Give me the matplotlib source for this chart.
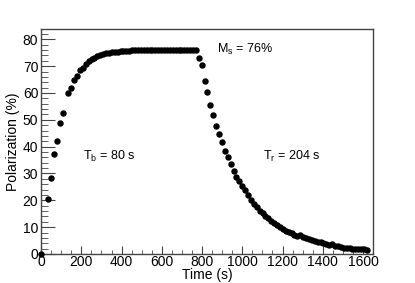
import matplotlib
matplotlib.use("Agg")
import matplotlib.pyplot as plt
from matplotlib.ticker import MultipleLocator

plt.rcParams['font.family'] = ['Liberation Sans', 'DejaVu Sans']
plt.rcParams['mathtext.default'] = 'regular'

# polarization build-up (beam on) and relaxation (beam off)
time_s = [0, 35, 49, 64, 78, 93, 107, 136, 150, 165, 179, 193, 208, 222, 237,
          251, 265, 280, 294, 309, 323, 337, 352, 366, 381, 395, 409, 424, 438,
          453, 467, 481, 496, 510, 525, 539, 553, 568, 582, 597, 611, 625, 640,
          654, 669, 683, 697, 712, 726, 741, 755, 769, 784, 798, 813, 827, 841,
          856, 870, 885, 899, 913, 928, 942, 957, 971, 985, 1000, 1014, 1029,
          1043, 1057, 1072, 1086, 1101, 1115, 1129, 1144, 1158, 1173, 1187,
          1201, 1216, 1230, 1245, 1259, 1273, 1288, 1302, 1317, 1331, 1345,
          1360, 1374, 1389, 1403, 1417, 1432, 1446, 1461, 1475, 1489, 1504,
          1518, 1533, 1547, 1561, 1576, 1590, 1605, 1619]
polarization = [0.0, 20.4, 28.2, 37.3, 42.2, 48.9, 52.7, 59.9, 62.0, 64.9, 66.3,
                68.7, 69.4, 70.7, 71.8, 72.6, 73.0, 73.6, 74.1, 74.5, 74.8, 75.0,
                75.2, 75.3, 75.4, 75.6, 75.6, 75.7, 75.8, 75.9, 75.9, 75.9, 76.0,
                76.0, 76.0, 76.1, 76.0, 76.1, 76.1, 76.0, 76.1, 76.0, 76.2, 76.0,
                76.1, 76.2, 76.1, 76.0, 76.2, 76.1, 76.2, 75.9, 73.1, 70.5, 64.3,
                60.2, 55.4, 51.7, 47.6, 44.8, 41.9, 38.5, 36.0, 33.4, 30.9, 28.8,
                27.1, 25.3, 23.9, 21.8, 20.3, 18.7, 17.4, 16.2, 15.2, 14.3, 13.4,
                12.4, 11.7, 10.8, 10.2, 9.3, 8.7, 8.3, 7.7, 7.2, 6.8, 7.0, 6.2,
                5.9, 5.6, 5.2, 4.9, 4.6, 4.3, 4.0, 3.6, 3.2, 3.6, 3.0, 2.8, 2.6,
                2.4, 2.3, 2.2, 2.0, 1.9, 1.9, 1.7, 1.8, 1.5]

fig = plt.figure(figsize=(4.15, 2.83), dpi=100)
ax = fig.add_axes([0.099, 0.1025, 0.8, 0.7965])

ax.plot(time_s, polarization, 'o', color='black', ms=3.6, mec='black', clip_on=False, zorder=3)

ax.set_xlim(0, 1650)
ax.set_ylim(0, 84)
ax.xaxis.set_major_locator(MultipleLocator(200))
ax.xaxis.set_minor_locator(MultipleLocator(50))
ax.yaxis.set_major_locator(MultipleLocator(10))
ax.yaxis.set_minor_locator(MultipleLocator(2))

frame_col = '#444444'
for sp in ax.spines.values():
    sp.set_color(frame_col)
    sp.set_linewidth(1.0)
ax.tick_params(axis='both', which='both', direction='in', colors=frame_col,
               labelcolor='black', labelsize=10, top=False, right=False)
ax.tick_params(axis='x', which='major', length=6, pad=1)
ax.tick_params(axis='x', which='minor', length=3)
ax.tick_params(axis='y', which='major', length=10, pad=2)
ax.tick_params(axis='y', which='minor', length=5)

ax.set_xlabel('Time (s)', fontsize=10, labelpad=-1)
ax.set_ylabel('Polarization (%)', fontsize=10, labelpad=2)

ax.text(874, 76.2, 'M$_s$ = 76%', fontsize=9, va='center', ha='left')
ax.text(207, 36.3, 'T$_b$ = 80 s', fontsize=9, va='center', ha='left')
ax.text(1103, 36.3, 'T$_r$ = 204 s', fontsize=9, va='center', ha='left')

fig.savefig('out.png', dpi=100)
